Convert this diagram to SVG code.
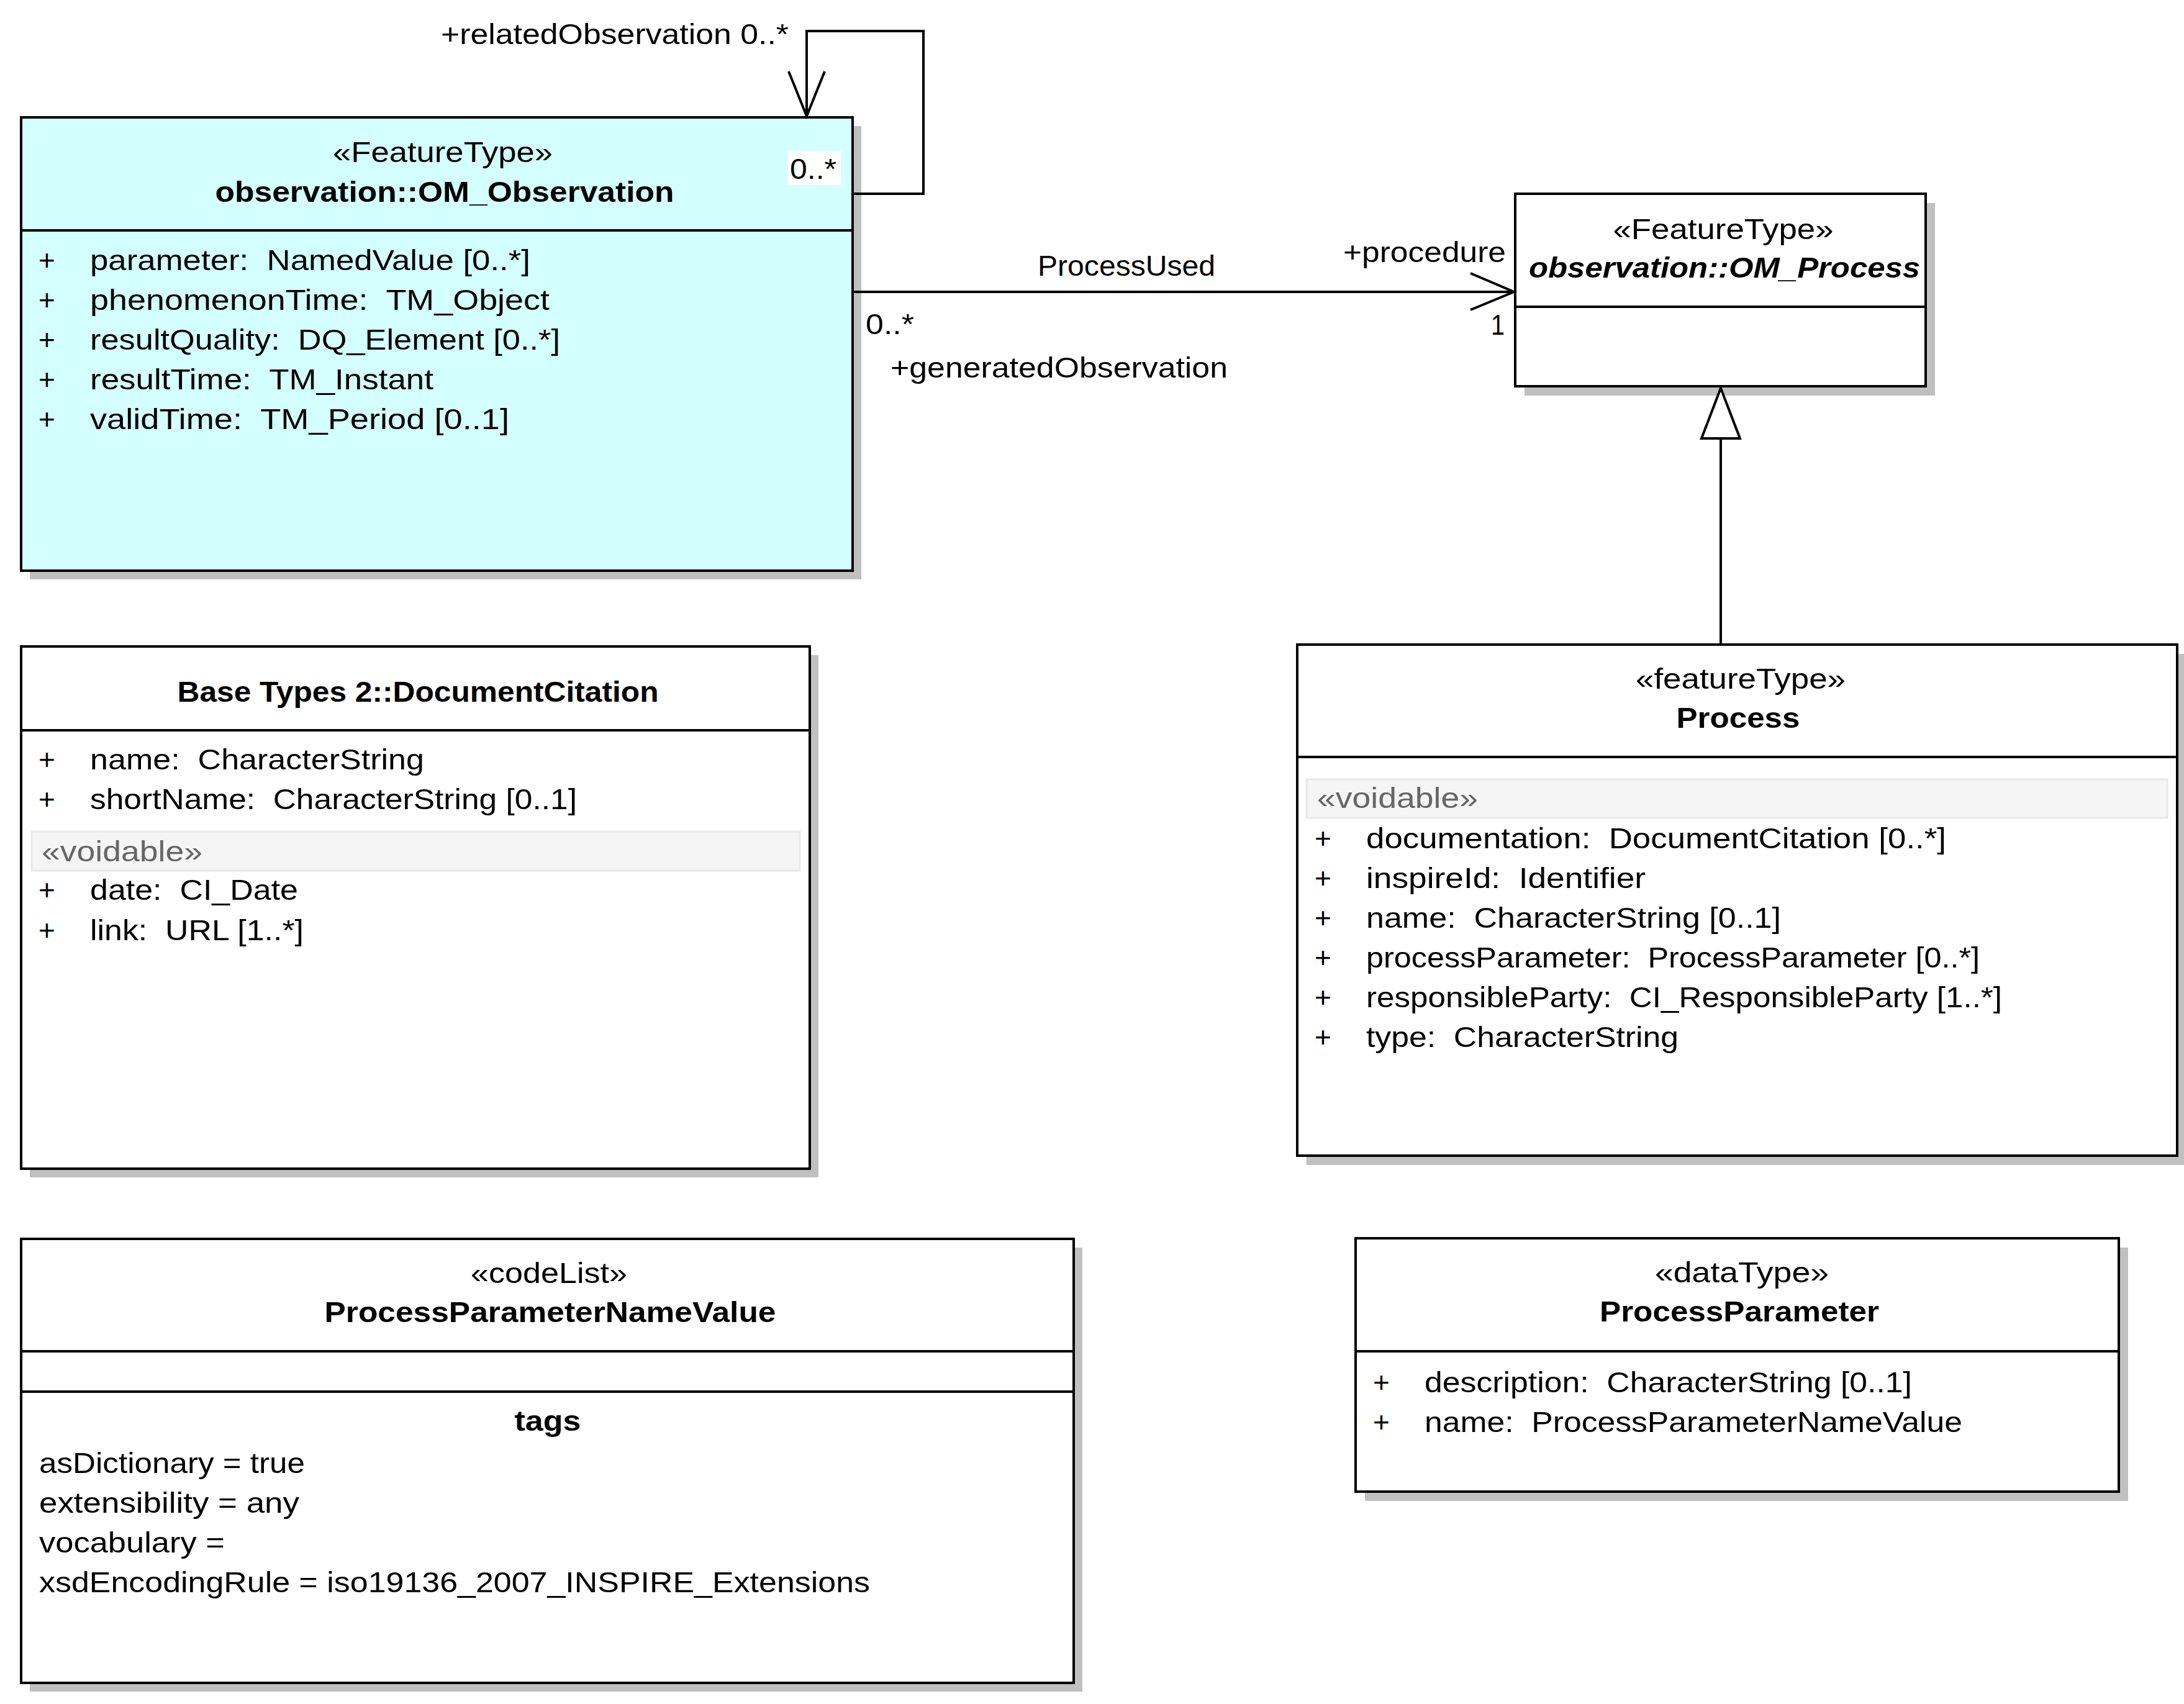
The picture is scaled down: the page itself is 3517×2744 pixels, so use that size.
<svg xmlns="http://www.w3.org/2000/svg" width="3517" height="2744" viewBox="0 0 3517 2744">
<style>
text{font-family:"Liberation Sans",Arial,sans-serif;font-size:46px;fill:#000;white-space:pre}
.b{font-weight:bold}
.bi{font-weight:bold;font-style:italic}
.c{text-anchor:middle}
.v{fill:#666}
.box{stroke:#000;stroke-width:4;fill:#fff}
.cyan{fill:#d4ffff}
.sh{fill:#c0c0c0}
.ln{stroke:#000;stroke-width:4;fill:none}
.band{fill:#f5f5f5;stroke:#e8e8e8;stroke-width:3}
</style>
<rect width="3517" height="2744" fill="#fff"/>

<g id="OM_Observation">
<rect class="sh" x="48" y="203" width="1339" height="730"/>
<rect class="box cyan" x="34" y="189" width="1339" height="730"/>
<line class="ln" x1="34" y1="371" x2="1373" y2="371"/>
<text class="c" x="713" y="261" textLength="354" lengthAdjust="spacingAndGlyphs">«FeatureType»</text>
<text class="b c" x="716" y="325" textLength="739" lengthAdjust="spacingAndGlyphs">observation::OM_Observation</text>
<text x="62" y="435">+</text><text x="145" y="435" textLength="709" lengthAdjust="spacingAndGlyphs">parameter:  NamedValue [0..*]</text>
<text x="62" y="499">+</text><text x="145" y="499" textLength="740" lengthAdjust="spacingAndGlyphs">phenomenonTime:  TM_Object</text>
<text x="62" y="563">+</text><text x="145" y="563" textLength="757" lengthAdjust="spacingAndGlyphs">resultQuality:  DQ_Element [0..*]</text>
<text x="62" y="627">+</text><text x="145" y="627" textLength="553" lengthAdjust="spacingAndGlyphs">resultTime:  TM_Instant</text>
<text x="62" y="691">+</text><text x="145" y="691" textLength="675" lengthAdjust="spacingAndGlyphs">validTime:  TM_Period [0..1]</text>
<rect x="1269" y="243" width="85" height="55" fill="#fff"/>
<text x="1272" y="288" textLength="75" lengthAdjust="spacingAndGlyphs">0..*</text>
</g>

<g id="OM_Process">
<rect class="sh" x="2455" y="327" width="661" height="310"/>
<rect class="box" x="2440" y="312" width="661" height="310"/>
<line class="ln" x1="2440" y1="494" x2="3101" y2="494"/>
<text class="c" x="2775" y="385" textLength="355" lengthAdjust="spacingAndGlyphs">«FeatureType»</text>
<text class="bi c" x="2777" y="447" textLength="630" lengthAdjust="spacingAndGlyphs">observation::OM_Process</text>
</g>

<g id="Process">
<rect class="sh" x="2104" y="1053" width="1417" height="823"/>
<rect class="box" x="2089" y="1038" width="1417" height="823"/>
<line class="ln" x1="2089" y1="1219" x2="3506" y2="1219"/>
<text class="c" x="2803" y="1109" textLength="338" lengthAdjust="spacingAndGlyphs">«featureType»</text>
<text class="b c" x="2799" y="1172" textLength="199" lengthAdjust="spacingAndGlyphs">Process</text>
<rect class="band" x="2104" y="1255" width="1386" height="62"/>
<text class="v" x="2121" y="1301" textLength="259" lengthAdjust="spacingAndGlyphs">«voidable»</text>
<text x="2117" y="1366">+</text><text x="2200" y="1366" textLength="934" lengthAdjust="spacingAndGlyphs">documentation:  DocumentCitation [0..*]</text>
<text x="2117" y="1430">+</text><text x="2200" y="1430" textLength="450" lengthAdjust="spacingAndGlyphs">inspireId:  Identifier</text>
<text x="2117" y="1494">+</text><text x="2200" y="1494" textLength="668" lengthAdjust="spacingAndGlyphs">name:  CharacterString [0..1]</text>
<text x="2117" y="1558">+</text><text x="2200" y="1558" textLength="988" lengthAdjust="spacingAndGlyphs">processParameter:  ProcessParameter [0..*]</text>
<text x="2117" y="1622">+</text><text x="2200" y="1622" textLength="1024" lengthAdjust="spacingAndGlyphs">responsibleParty:  CI_ResponsibleParty [1..*]</text>
<text x="2117" y="1686">+</text><text x="2200" y="1686" textLength="503" lengthAdjust="spacingAndGlyphs">type:  CharacterString</text>
</g>

<g id="DocumentCitation">
<rect class="sh" x="48" y="1055" width="1270" height="841"/>
<rect class="box" x="34" y="1041" width="1270" height="841"/>
<line class="ln" x1="34" y1="1176" x2="1304" y2="1176"/>
<text class="b c" x="673" y="1130" textLength="775" lengthAdjust="spacingAndGlyphs">Base Types 2::DocumentCitation</text>
<text x="62" y="1239">+</text><text x="145" y="1239" textLength="538" lengthAdjust="spacingAndGlyphs">name:  CharacterString</text>
<text x="62" y="1303">+</text><text x="145" y="1303" textLength="784" lengthAdjust="spacingAndGlyphs">shortName:  CharacterString [0..1]</text>
<rect class="band" x="51" y="1339" width="1237" height="63"/>
<text class="v" x="67" y="1387" textLength="259" lengthAdjust="spacingAndGlyphs">«voidable»</text>
<text x="62" y="1449">+</text><text x="145" y="1449" textLength="335" lengthAdjust="spacingAndGlyphs">date:  CI_Date</text>
<text x="62" y="1514">+</text><text x="145" y="1514" textLength="344" lengthAdjust="spacingAndGlyphs">link:  URL [1..*]</text>
</g>

<g id="ProcessParameterNameValue">
<rect class="sh" x="48" y="2009" width="1695" height="715"/>
<rect class="box" x="34" y="1995" width="1695" height="715"/>
<line class="ln" x1="34" y1="2176" x2="1729" y2="2176"/>
<line class="ln" x1="34" y1="2241" x2="1729" y2="2241"/>
<text class="c" x="884" y="2066" textLength="252" lengthAdjust="spacingAndGlyphs">«codeList»</text>
<text class="b c" x="886" y="2129" textLength="727" lengthAdjust="spacingAndGlyphs">ProcessParameterNameValue</text>
<text class="b c" x="882" y="2304" textLength="107" lengthAdjust="spacingAndGlyphs">tags</text>
<text x="63" y="2372" textLength="428" lengthAdjust="spacingAndGlyphs">asDictionary = true</text>
<text x="63" y="2436" textLength="419" lengthAdjust="spacingAndGlyphs">extensibility = any</text>
<text x="63" y="2500" textLength="299" lengthAdjust="spacingAndGlyphs">vocabulary =</text>
<text x="63" y="2564" textLength="1338" lengthAdjust="spacingAndGlyphs">xsdEncodingRule = iso19136_2007_INSPIRE_Extensions</text>
</g>

<g id="ProcessParameter">
<rect class="sh" x="2198" y="2009" width="1229" height="408"/>
<rect class="box" x="2183" y="1994" width="1229" height="408"/>
<line class="ln" x1="2183" y1="2176" x2="3412" y2="2176"/>
<text class="c" x="2805" y="2065" textLength="280" lengthAdjust="spacingAndGlyphs">«dataType»</text>
<text class="b c" x="2801" y="2128" textLength="450" lengthAdjust="spacingAndGlyphs">ProcessParameter</text>
<text x="2211" y="2242">+</text><text x="2294" y="2242" textLength="785" lengthAdjust="spacingAndGlyphs">description:  CharacterString [0..1]</text>
<text x="2211" y="2306">+</text><text x="2294" y="2306" textLength="866" lengthAdjust="spacingAndGlyphs">name:  ProcessParameterNameValue</text>
</g>

<g id="connectors">
<polyline class="ln" points="1375,312 1487,312 1487,50 1299,50 1299,188"/>
<polyline class="ln" points="1270,115 1299,187 1328,115"/>
<text x="710" y="71" textLength="560" lengthAdjust="spacingAndGlyphs">+relatedObservation 0..*</text>
<line class="ln" x1="1375" y1="470" x2="2438" y2="470"/>
<polyline class="ln" points="2368,440 2438,470 2368,499"/>
<text x="1671" y="444" textLength="286" lengthAdjust="spacingAndGlyphs">ProcessUsed</text>
<text x="2163" y="422" textLength="262" lengthAdjust="spacingAndGlyphs">+procedure</text>
<text x="2401" y="539" textLength="22" lengthAdjust="spacingAndGlyphs">1</text>
<text x="1394" y="538" textLength="78" lengthAdjust="spacingAndGlyphs">0..*</text>
<text x="1434" y="608" textLength="543" lengthAdjust="spacingAndGlyphs">+generatedObservation</text>
<line class="ln" x1="2771" y1="706" x2="2771" y2="1036"/>
<polygon points="2771,625 2740,706 2802,706" fill="#fff" stroke="#000" stroke-width="4"/>
</g>
</svg>
